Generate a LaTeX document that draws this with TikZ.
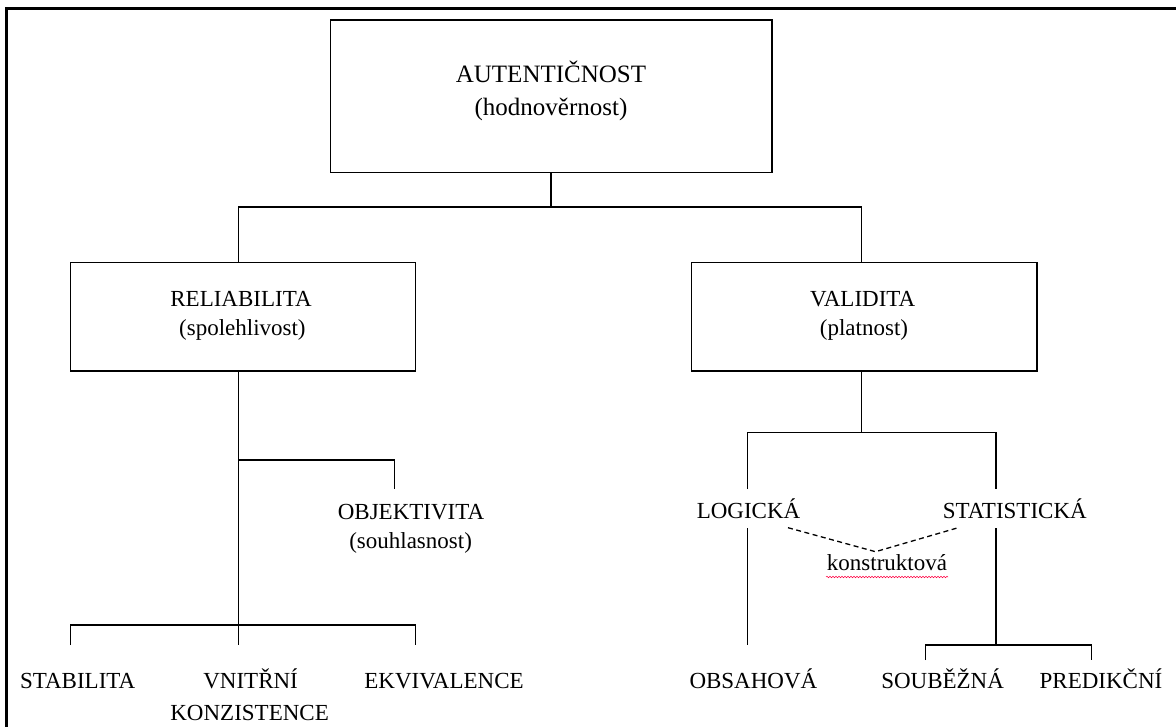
\documentclass[tikz,border=0pt]{standalone}
\usepackage{fontspec}
\setmainfont{Liberation Serif}
\usetikzlibrary{decorations.pathmorphing}
\begin{document}
\begin{tikzpicture}[x=1pt,y=-1pt,
  box/.style={draw, line width=1.3pt, inner sep=0pt},
  lbl/.style={anchor=base, inner sep=0pt, font=\fontsize{23}{28}\selectfont},
  big/.style={anchor=base, inner sep=0pt, font=\fontsize{25}{30}\selectfont},
  con/.style={line width=1.3pt},
  dashcon/.style={line width=1.3pt, dash pattern=on 5pt off 3.5pt},
  framel/.style={line width=3pt},
  wavy/.style={draw=red!75!magenta, line width=0.5pt, decorate, decoration={snake, amplitude=0.8pt, segment length=3pt}}]
\useasboundingbox (0,0) rectangle (1176,727);
% frame
\coordinate (fTL) at (6.5,9);
\coordinate (fTR) at (1176,9);
\coordinate (fBL) at (6.5,727);
\draw[framel] (fTR) -- (fTL) -- (fBL);
% boxes
\node[box, minimum width=441.4pt, minimum height=152.3pt] (top) at (551.3,96.2) {};
\node[box, minimum width=345.2pt, minimum height=108.7pt] (rel) at (243,316.7) {};
\node[box, minimum width=345.3pt, minimum height=108.7pt] (val) at (864.2,316.7) {};
% box texts
\node[big] (t1) at (551,83) {AUTENTIČNOST};
\node[big] (t2) at (551,115.5) {(hodnověrnost)};
\node[lbl] (r1) at (241,307) {RELIABILITA};
\node[lbl] (r2) at (242.4,336) {(spolehlivost)};
\node[lbl] (v1) at (862.7,307) {VALIDITA};
\node[lbl] (v2) at (864,336) {(platnost)};
% leaf texts
\node[lbl] (obj) at (411,519) {OBJEKTIVITA};
\node[lbl] (obj2) at (410.6,548) {(souhlasnost)};
\node[lbl] (stab) at (77.7,688) {STABILITA};
\node[lbl] (vni) at (250.6,688) {VNITŘNÍ};
\node[lbl] (kon) at (249.6,720) {KONZISTENCE};
\node[lbl] (ekv) at (444,688) {EKVIVALENCE};
\node[lbl] (log) at (748.5,518) {LOGICKÁ};
\node[lbl] (stat) at (1014.8,518) {STATISTICKÁ};
\node[lbl] (kst) at (887,570.7) {konstruktová};
\node[lbl] (obs) at (753.4,688) {OBSAHOVÁ};
\node[lbl] (soub) at (942.6,688) {SOUBĚŽNÁ};
\node[lbl] (pred) at (1101,688) {PREDIKČNÍ};
% coordinates
\coordinate (topB) at (551,172.3);
\coordinate (j1) at (551,207);
\coordinate (relT) at (238.8,262.3);
\coordinate (valT) at (861.6,262.3);
\coordinate (relB) at (238.8,371);
\coordinate (valB) at (861.6,371);
\coordinate (objJ) at (238.8,460);
\coordinate (objE) at (394.5,489);
\coordinate (barL) at (70.4,625);
\coordinate (barM) at (238.8,625);
\coordinate (barR) at (415.6,625);
\coordinate (tkL) at (70.4,645);
\coordinate (tkM) at (238.8,645);
\coordinate (tkR) at (415.6,645);
\coordinate (vJ) at (861.6,432.3);
\coordinate (logE) at (747.3,489);
\coordinate (statE) at (996,489);
\coordinate (logS) at (747.3,528);
\coordinate (logF) at (747.3,645);
\coordinate (statS) at (996,528);
\coordinate (statJ) at (996,645);
\coordinate (sbL) at (925.8,660);
\coordinate (sbR) at (1091.2,660);
\coordinate (dA) at (788,527.7);
\coordinate (dM) at (875.5,551.7);
\coordinate (dB) at (958.2,527.7);
\coordinate (wA) at (826,577);
\coordinate (wB) at (948,577);
% connectors
\draw[con] (topB) -- (j1);
\draw[con] (relT) |- (j1) -| (valT);
\draw[con] (relB) -- (barM);
\draw[con] (objJ) -| (objE);
\draw[con] (tkL) |- (barM) -| (tkR);
\draw[con] (barM) -- (tkM);
\draw[con] (valB) -- (vJ);
\draw[con] (logE) |- (vJ) -| (statE);
\draw[con] (logS) -- (logF);
\draw[con] (statS) -- (statJ);
\draw[con] (sbL) |- (statJ) -| (sbR);
\draw[dashcon] (dA) -- (dM) -- (dB);
\draw[wavy] (wA) -- (wB);
\end{tikzpicture}
\end{document}
